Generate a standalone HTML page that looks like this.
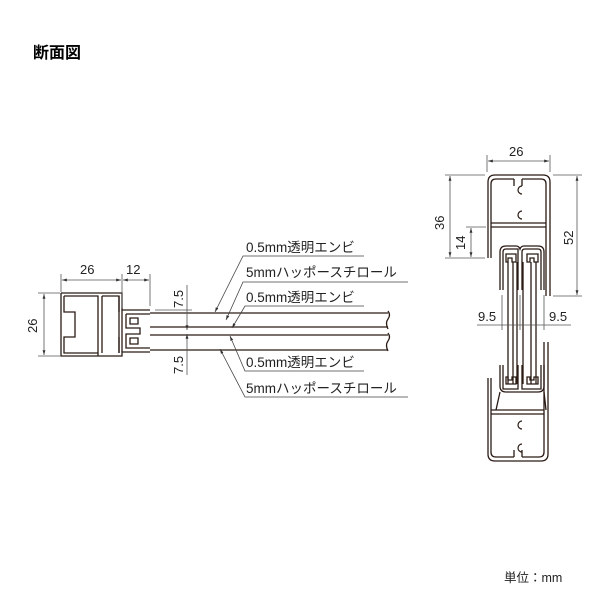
<!DOCTYPE html>
<html><head><meta charset="utf-8"><style>
html,body{margin:0;padding:0;background:#fff;}
svg{display:block;}
text{font-family:"Liberation Sans","Noto Sans CJK JP",sans-serif;fill:#222;}
</style></head><body>
<svg width="600" height="600" viewBox="0 0 600 600" xmlns="http://www.w3.org/2000/svg">
<defs>
<marker id="a" viewBox="0 0 10 10" refX="10" refY="5" markerWidth="6" markerHeight="6" orient="auto-start-reverse"><path d="M0,2 L10,5 L0,8 z" fill="#333"/></marker>
</defs>
<text x="33" y="58" font-size="16" font-weight="bold" style="fill:#000">断面図</text>

<g fill="none" stroke="#2a1a14" stroke-width="1.3">
<path d="M61,293 H122 V310 H150 M61,293 V356 H122 V352 H150"/>
<path d="M64,296 H98 V356 M102,296 H119 V353 M102,296 V353"/>
<path d="M64,296 V312 H75 V337 H64 V353 H98"/>
<path d="M119,296 V312 M119,337 V353"/>
<path d="M122,310 V352 M126,314 H150 M126,314 V328 H140 V334 H126 V348 H150"/>
<path d="M130,318 H138 V324 H130 Z M130,338 H138 V344 H130 Z"/>
<path d="M150,313 H388 M150,327 H388 M150,335 H388 M150,350 H388"/>
<path d="M388,311 q3,4 0,8 q-3,4 0,10 M388,333 q3,4 0,8 q-3,4 0,10"/>
</g>
<g stroke="#555" stroke-width="0.8" fill="none">
<line x1="61" y1="274" x2="61" y2="292"/><line x1="122" y1="274" x2="122" y2="308"/><line x1="150" y1="274" x2="150" y2="306"/>
<line x1="62" y1="280" x2="121" y2="280" marker-start="url(#a)" marker-end="url(#a)"/>
<line x1="123" y1="280" x2="149" y2="280" marker-start="url(#a)" marker-end="url(#a)"/>
<line x1="38" y1="293" x2="60" y2="293"/><line x1="38" y1="356" x2="60" y2="356"/>
<line x1="44" y1="294" x2="44" y2="355" marker-start="url(#a)" marker-end="url(#a)"/>
<line x1="155" y1="310" x2="192" y2="310"/>
<line x1="187" y1="285" x2="187" y2="330" marker-end="url(#a)"/>
<line x1="187" y1="334" x2="187" y2="375" marker-start="url(#a)"/>
</g>
<text x="80" y="274" font-size="13">26</text>
<text x="126" y="274" font-size="13">12</text>
<text transform="translate(37,333) rotate(-90)" font-size="13">26</text>
<text transform="translate(183,308) rotate(-90)" font-size="13">7.5</text>
<text transform="translate(183,374) rotate(-90)" font-size="13">7.5</text>
<g font-size="13.5">
<text x="246" y="252">0.5mm透明エンビ</text>
<text x="246" y="277">5mmハッポースチロール</text>
<text x="246" y="302">0.5mm透明エンビ</text>
<text x="246" y="367">0.5mm透明エンビ</text>
<text x="246" y="393">5mmハッポースチロール</text>
</g>
<g stroke="#444" stroke-width="0.8" fill="none">
<path d="M364,256 H243 L215,312" marker-end="url(#a)"/>
<path d="M408,282 H243 L226,320" marker-end="url(#a)"/>
<path d="M364,306 H245 L232,328" marker-end="url(#a)"/>
<path d="M364,371 H245 L230,336" marker-end="url(#a)"/>
<path d="M408,397 H245 L220,349" marker-end="url(#a)"/>
</g>

<g fill="none" stroke="#2a1a14" stroke-width="1.3">
<path d="M488,258 V182 q0,-7 7,-7 H543 q7,0 7,7 V296"/>
<path d="M491,258 V184 q0,-5 5,-5 H514 M522,179 H541 q5,0 5,5 V296"/>
<path d="M491,223 H546 M491,227 H546"/>
<path d="M488,378 V454 q0,7 7,7 H541 q7,0 7,-7 V342"/>
<path d="M491,378 V452 q0,5 5,5 H514 M522,457 H539 q5,0 5,-5 V342"/>
<path d="M491,410 H544 M491,414 H544"/>
<path d="M514,457 V450 M522,457 V450 M514,179 V186 M522,179 V186"/>
<path d="M500,290 V252 q0,-6 6,-6 H516 q3,0 4,3 q1,-3 4,-3 H538 q6,0 6,6 V290"/>
<path d="M503,290 V252 q0,-3 3,-3 H518 V290 M522,290 V252 q0,-3 3,-3 H538 q3,0 3,3 V290"/>
<path d="M506,254 H516 V262 H512 V258 H508 V262 H506 Z M527,254 H538 V262 H534 V258 H530 V262 H527 Z"/>
<path d="M500,365 V386 q0,6 6,6 H538 q6,0 6,-6 V365 M503,365 V389 H518 V365 M522,365 V389 H541 V365"/>
<path d="M506,384 H516 V377 H512 V380 H508 V377 H506 Z M527,384 H538 V377 H534 V380 H530 V377 H527 Z"/>
<path d="M508,262 V384 M513,262 V384 M531,262 V384 M536,262 V384"/>
<path d="M517,262 V384 M523,262 V384"/>
<path d="M500,392 L496,410 M544,392 L546,410"/>
</g>
<g fill="none" stroke="#2a1a14" stroke-width="1.2">
<path d="M522,186 a4,4 0 1,0 0,8"/><path d="M522,211 a4,4 0 1,0 0,8"/>
<path d="M522,421 a4,4 0 1,0 0,8"/><path d="M522,444 a4,4 0 1,0 0,8"/>
</g>
<g stroke="#555" stroke-width="0.8" fill="none">
<line x1="487" y1="155" x2="487" y2="172"/><line x1="550" y1="155" x2="550" y2="172"/>
<line x1="488" y1="161" x2="549" y2="161" marker-start="url(#a)" marker-end="url(#a)"/>
<line x1="445" y1="175" x2="485" y2="175"/><line x1="445" y1="258" x2="485" y2="258"/>
<line x1="450" y1="176" x2="450" y2="257" marker-start="url(#a)" marker-end="url(#a)"/>
<line x1="466" y1="227" x2="486" y2="227"/>
<line x1="471" y1="228" x2="471" y2="257" marker-start="url(#a)" marker-end="url(#a)"/>
<line x1="553" y1="175" x2="582" y2="175"/><line x1="553" y1="296" x2="582" y2="296"/>
<line x1="577" y1="176" x2="577" y2="295" marker-start="url(#a)" marker-end="url(#a)"/>
<line x1="477" y1="325" x2="571" y2="325"/>
<line x1="502" y1="295" x2="502" y2="330"/><line x1="520" y1="295" x2="520" y2="330"/><line x1="544" y1="295" x2="544" y2="330"/>
</g>
<text x="509" y="156" font-size="13">26</text>
<text transform="translate(444,230) rotate(-90)" font-size="13">36</text>
<text transform="translate(465,250) rotate(-90)" font-size="13">14</text>
<text transform="translate(573,245) rotate(-90)" font-size="13">52</text>
<text x="478" y="321" font-size="13">9.5</text>
<text x="549" y="321" font-size="13">9.5</text>

<text x="504" y="582" font-size="12.5">単位：mm</text>
</svg>
</body></html>
